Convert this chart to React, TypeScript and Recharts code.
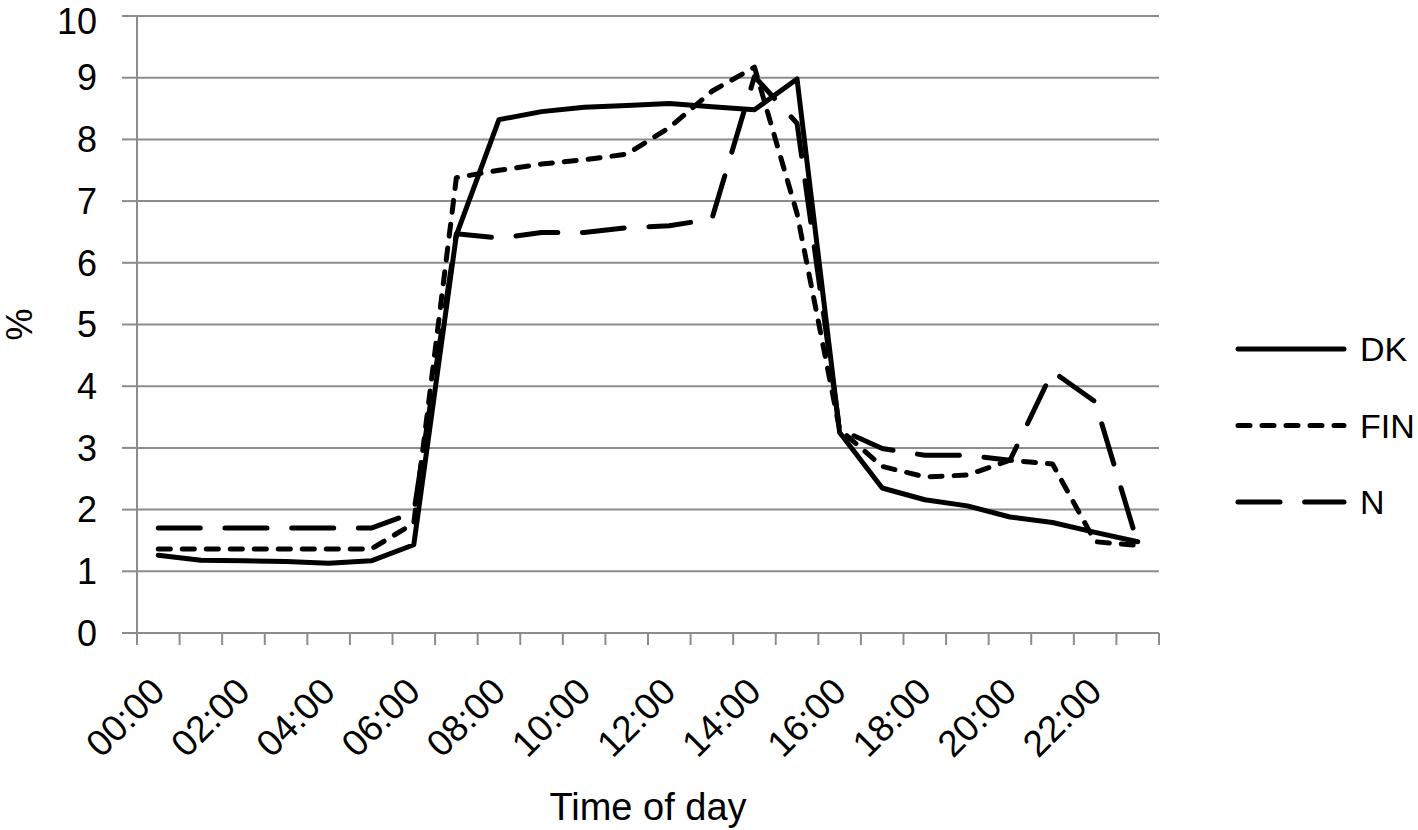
import React from 'react'
import { LineChart, Line, XAxis, YAxis, CartesianGrid, Legend } from 'recharts'

// hourly categories, labels shown every second hour
const hours = [
  '00:00', '01:00', '02:00', '03:00', '04:00', '05:00', '06:00', '07:00',
  '08:00', '09:00', '10:00', '11:00', '12:00', '13:00', '14:00', '15:00',
  '16:00', '17:00', '18:00', '19:00', '20:00', '21:00', '22:00', '23:00'
]

const dk = [
  1.26, 1.18, 1.17, 1.16, 1.13, 1.17, 1.43, 6.45, 8.32, 8.45, 8.52, 8.55,
  8.58, 8.53, 8.48, 8.98, 3.25, 2.35, 2.16, 2.06, 1.88, 1.79, 1.63, 1.48
]
const fin = [
  1.36, 1.36, 1.36, 1.36, 1.36, 1.36, 1.78, 7.38, 7.5, 7.6, 7.67, 7.76,
  8.19, 8.78, 9.17, 6.8, 3.3, 2.7, 2.53, 2.56, 2.8, 2.74, 1.48, 1.42
]
const nor = [
  1.7, 1.7, 1.7, 1.7, 1.7, 1.7, 1.95, 6.47, 6.4, 6.49, 6.49, 6.57,
  6.6, 6.71, 9.02, 8.26, 3.3, 2.99, 2.88, 2.88, 2.8, 4.24, 3.75, 1.45
]

const yTicks = [0, 1, 2, 3, 4, 5, 6, 7, 8, 9, 10]

const series = [
  { key: 'DK', dash: undefined },
  { key: 'FIN', dash: '12 12' },
  { key: 'N', dash: '42 24.7' }
]

const data = hours.map((h, i) => ({ hour: h, DK: dk[i], FIN: fin[i], N: nor[i] }))

const GRID = '#8c8c8c'
const FONT = '"Liberation Sans", Arial, sans-serif'
const LINE_W = 5

// tick marks sit on category boundaries, labels on every other category
const HourTick = (props: any) => {
  const { x, y, payload, index } = props
  const half = payload.offset || 0
  const top = y - 16
  const i = payload.index ?? index
  const lx = x - 10
  const ly = y + 26
  return (
    <g>
      <line x1={x - half} x2={x - half} y1={top} y2={top + 12} stroke={GRID} strokeWidth={2} />
      {i === hours.length - 1 && (
        <line x1={x + half} x2={x + half} y1={top} y2={top + 12} stroke={GRID} strokeWidth={2} />
      )}
      {i % 2 === 0 && (
        <text
          x={lx}
          y={ly}
          transform={`rotate(-45, ${lx}, ${ly})`}
          textAnchor="end"
          dy="0.71em"
          fontSize={37}
          fill="#000"
        >
          {payload.value}
        </text>
      )}
    </g>
  )
}

const PercentLabel = (props: any) => {
  const vb = props.viewBox || { x: 0, y: 16, width: 137, height: 617 }
  const cx = vb.x + 19
  const cy = vb.y + vb.height / 2
  return (
    <text
      x={cx}
      y={cy}
      transform={`rotate(-90, ${cx}, ${cy})`}
      textAnchor="middle"
      dominantBaseline="central"
      fontSize={36}
      fill="#000"
    >
      %
    </text>
  )
}

const LegendBox = () => (
  <svg width={180} height={240} style={{ overflow: 'visible' }}>
    {series.map((s, i) => {
      const cy = 30 + i * 76.5
      return (
        <g key={s.key}>
          <line
            x1={4}
            x2={110}
            y1={cy}
            y2={cy}
            stroke="#000"
            strokeWidth={LINE_W}
            strokeLinecap="round"
            strokeDasharray={s.dash}
          />
          <text x={126} y={cy} dominantBaseline="central" fontSize={34} fill="#000" fontFamily={FONT}>
            {s.key}
          </text>
        </g>
      )
    })}
  </svg>
)

export default function App() {
  return (
    <div style={{ position: 'absolute', left: 0, top: 0, fontFamily: FONT, background: '#fff' }}>
      <LineChart width={1418} height={830} data={data} margin={{ top: 16, right: 259, left: 0, bottom: 0 }}>
        <CartesianGrid vertical={false} stroke={GRID} strokeWidth={2} />
        <XAxis
          dataKey="hour"
          scale="band"
          interval={0}
          height={197}
          stroke={GRID}
          strokeWidth={2}
          tickLine={false}
          tickSize={12}
          tickMargin={4}
          tick={<HourTick />}
          label={{ value: 'Time of day', position: 'insideBottom', offset: 10, fontSize: 38, fill: '#000' }}
        />
        <YAxis
          domain={[0, 10]}
          ticks={yTicks}
          width={137}
          stroke={GRID}
          strokeWidth={2}
          tickSize={15}
          tickMargin={25}
          tick={{ fontSize: 36, fill: '#000' }}
          label={<PercentLabel />}
        />
        <Legend
          layout="vertical"
          align="center"
          verticalAlign="middle"
          content={<LegendBox />}
          wrapperStyle={{ left: 1234, top: 319, width: 184 }}
        />
        {series.map((s) => (
          <Line
            key={s.key}
            type="linear"
            dataKey={s.key}
            stroke="#000"
            strokeWidth={LINE_W}
            strokeDasharray={s.dash}
            strokeLinecap="round"
            strokeLinejoin="round"
            dot={false}
            activeDot={false}
            isAnimationActive={false}
          />
        ))}
      </LineChart>
    </div>
  )
}
